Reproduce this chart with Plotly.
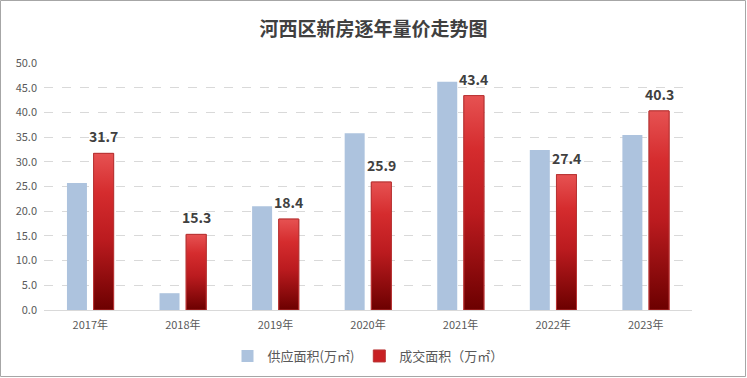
import plotly.graph_objects as go

years = ["2017年", "2018年", "2019年", "2020年", "2021年", "2022年", "2023年"]
supply = [25.7, 3.4, 21.0, 35.8, 46.2, 32.4, 35.4]
deals = [31.7, 15.3, 18.4, 25.9, 43.4, 27.4, 40.3]
supply_name = "供应面积(万㎡)"
deal_name = "成交面积（万㎡）"
title_text = "河西区新房逐年量价走势图"

FONT = "Noto Sans CJK SC, Microsoft YaHei, sans-serif"
BLUE = "#adc3de"
RED = "#c82024"
OFF = 0.144
W = 0.216

xs = list(range(len(years)))

fig = go.Figure()
fig.add_trace(go.Bar(
    x=xs, y=supply, name=supply_name, width=W, offset=-OFF - W / 2,
    marker=dict(color=BLUE, line=dict(width=0)),
))
fig.add_trace(go.Bar(
    x=xs, y=deals, name=deal_name, width=W, offset=OFF - W / 2,
    marker=dict(color=RED, line=dict(color="#b93535", width=1)),
))

# gradient overlay on each red bar
for i, v in zip(xs, deals):
    c = i + OFF
    x0, x1 = c - W / 2, c + W / 2
    fig.add_trace(go.Scatter(
        x=[x0, x0, x1, x1, x0], y=[0, v, v, 0, 0],
        mode="lines", fill="toself",
        line=dict(color="#b93535", width=1),
        fillgradient=dict(type="vertical", start=0, stop=v,
                          colorscale=[[0, "#6c0000"], [0.45, "#bb1b1f"],
                                      [0.75, "#d52c2e"], [1, "#e65252"]]),
        showlegend=False, hoverinfo="skip",
    ))

for i, v in zip(xs, deals):
    fig.add_annotation(x=i + OFF, y=v, text=f"<b>{v:.1f}</b>", showarrow=False,
                       yanchor="bottom", yshift=5,
                       font=dict(family=FONT, size=14, color="#404040"))

PW, PH = 648, 247
L, T, B = 44, 63, 68
R = 747 - L - PW
fig.add_shape(type="rect", xref="paper", yref="paper",
              x0=(-L + 0.5) / PW, x1=1 + (R - 1.5) / PW,
              y0=-(B - 1.5) / PH, y1=1 + (T - 0.5) / PH,
              line=dict(color="#a6a6a6", width=1), layer="below")

fig.update_layout(
    width=747, height=378,
    margin=dict(l=L, r=R, t=T, b=B, pad=0, autoexpand=False),
    paper_bgcolor="white", plot_bgcolor="white",
    title=dict(text=f"<b>{title_text}</b>", x=0.5, xanchor="center",
               y=1 - 29 / 378, yanchor="middle",
               font=dict(family=FONT, size=19, color="#404040")),
    barmode="overlay",
    showlegend=True,
    legend=dict(orientation="h", x=0.5, xanchor="center", y=-(356 - 310) / PH,
                yanchor="middle", font=dict(family=FONT, size=13, color="#595959"),
                itemwidth=30, traceorder="normal", bgcolor="rgba(0,0,0,0)",
                tracegroupgap=0),
    xaxis=dict(range=[-0.5, 6.5], tickmode="array", tickvals=xs, ticktext=years,
               showgrid=False, zeroline=False, showline=True, linecolor="#d9d9d9",
               linewidth=1, ticks="", automargin=False, ticklabelstandoff=5,
               tickfont=dict(family=FONT, size=11, color="#595959")),
    yaxis=dict(range=[0, 50], dtick=5, tickformat=".1f", showgrid=True,
               gridcolor="#d9d9d9", griddash="dash", gridwidth=1, zeroline=False,
               showline=False, ticks="", ticklabelstandoff=6, automargin=False,
               tickfont=dict(family=FONT, size=11, color="#595959")),
    font=dict(family=FONT),
)

fig.write_html("out.html", config={"displayModeBar": False},
               post_script="document.body.style.margin='0';document.body.style.overflow='hidden';")
